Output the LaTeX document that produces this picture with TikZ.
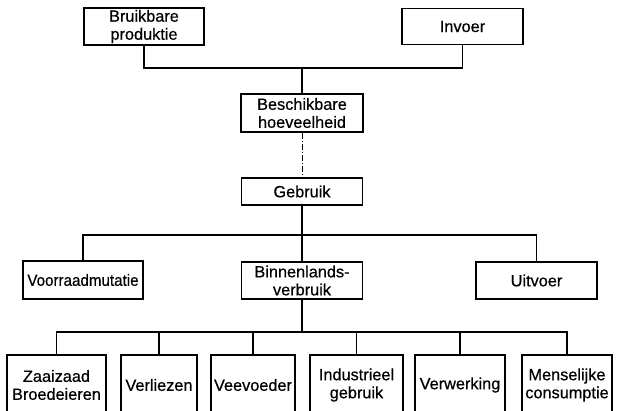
\documentclass[tikz,border=0pt]{standalone}
\usepackage{graphicx}
\usepackage{fontspec}
\setmainfont{Liberation Sans}
\newfontfamily\diagfont{Liberation Sans}[FakeBold=0.5]
\begin{document}
\begin{tikzpicture}[x=1pt,y=-1pt,
  box/.style={draw, line width=1.8pt, inner sep=0pt, align=center,
    font=\diagfont\fontsize{16.3}{18}\selectfont},
  conn/.style={line width=1.6pt},
  faint/.style={line width=0.7pt, dash pattern=on 6pt off 2pt on 1pt off 2pt}]
\clip (0,0) rectangle (620,410);
\fill[white] (0,0) rectangle (620,410);
% level 1
\node[box, minimum width=120pt, minimum height=37pt] (bp) at (144,26.5) {Bruikbare\\produktie};
\node[box, minimum width=121pt, minimum height=36pt] (inv) at (462.5,26.5) {Invoer};
% level 2
\node[box, minimum width=122pt, minimum height=38pt] (besch) at (302,113) {Beschikbare\\hoeveelheid};
\node[box, minimum width=121pt, minimum height=27pt] (geb) at (302,191.5) {Gebruik};
% level 3
\node[box, minimum width=120pt, minimum height=38pt] (voor) at (83,280) {\scalebox{0.93}[1]{Voorraadmutatie}};
\node[box, minimum width=121pt, minimum height=37pt] (binn) at (302,280.5) {Binnenlands-\\verbruik};
\node[box, minimum width=121pt, minimum height=37pt] (uit) at (536.5,280.5) {Uitvoer};
% level 4 (cut off at the bottom)
\node[box, minimum width=99pt, minimum height=60pt] (zaai) at (56.5,385) {Zaaizaad\\Broedeieren};
\node[box, minimum width=76pt, minimum height=60pt] (verl) at (159,385) {Verliezen};
\node[box, minimum width=84pt, minimum height=60pt] (vee) at (253,385) {Veevoeder};
\node[box, minimum width=93pt, minimum height=60pt] (ind) at (356.5,385) {Industrieel\\gebruik};
\node[box, minimum width=90pt, minimum height=60pt] (verw) at (460,385) {Verwerking};
\node[box, minimum width=90pt, minimum height=60pt] (mens) at (567,385) {Menselijke\\consumptie};
% connectors
\coordinate (j1) at (302,68);
\coordinate (j2) at (302,235);
\coordinate (j3) at (302,332);
\draw[conn] (bp.south) |- (j1) -| (inv.south);
\draw[conn] (j1) -- (besch.north);
\draw[faint] (besch.south) -- (geb.north);
\draw[conn] (geb.south) -- (j2);
\draw[conn] (voor.north) |- (j2) -| (uit.north);
\draw[conn] (j2) -- (binn.north);
\draw[conn] (binn.south) -- (j3);
\draw[conn] (zaai.north) |- (j3) -| (mens.north);
\draw[conn] (verl.north) -- (verl.north |- j3);
\draw[conn] (vee.north) -- (vee.north |- j3);
\draw[conn] (ind.north) -- (ind.north |- j3);
\draw[conn] (verw.north) -- (verw.north |- j3);
\end{tikzpicture}
\end{document}
